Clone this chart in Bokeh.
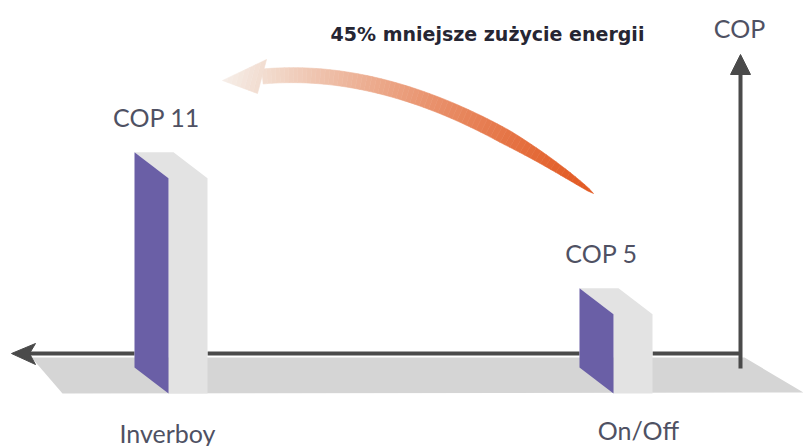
import numpy as np
from bokeh.plotting import figure
from bokeh.models import Range1d, Arrow, NormalHead
from bokeh.core.properties import value
from bokeh.embed import file_html
from bokeh.resources import INLINE

# ---- data ----
categories = ["Inverboy", "On/Off"]
cop_values = [11, 5]
cop_labels = ["COP 11", "COP 5"]
axis_title = "COP"
headline = "45% mniejsze zużycie energii"

# ---- layout ----
W, H = 803, 446
UNIT = 22.67      # pixels per COP unit
BASE = 1.5        # COP value at the front edge of the floor
FLOOR_PX = 393


def Y(px):
    return BASE + (FLOOR_PX - px) / UNIT


p = figure(width=W, height=H, x_range=Range1d(0, W), y_range=Range1d(Y(H), Y(0)),
           output_backend="svg", toolbar_location=None, min_border=0,
           x_axis_type=None, y_axis_type=None)
p.grid.visible = False
p.outline_line_color = None
p.background_fill_color = "white"
p.border_fill_color = "white"

FONT = "Lato"
TEXT_COL = "#4f5163"
AXIS_COL = "#4a4a4a"

bar_front_x = [168, 613]
BAR_W = 39
DX = -34
DDY = 26 / UNIT

# floor
p.patch(x=[31, 744, 803, 62], y=[Y(357), Y(357), Y(392), Y(393)],
        fill_color="#d5d5d5", line_color=None)

# horizontal axis, hidden behind the bars
gap_x0 = [28] + [xf + BAR_W for xf in bar_front_x]
gap_x1 = [xf + DX for xf in bar_front_x] + [741]
p.segment(x0=gap_x0, y0=[Y(353)] * 3, x1=gap_x1, y1=[Y(353)] * 3,
          line_width=4, line_color=AXIS_COL)
p.patch(x=[11, 35, 29, 35], y=[Y(353), Y(343), Y(353), Y(364)],
        fill_color=AXIS_COL, line_color=AXIS_COL, line_width=1)

# vertical axis
v_axis = Arrow(end=NormalHead(size=20, fill_color=AXIS_COL, line_color=AXIS_COL),
               x_start=740, y_start=Y(368), x_end=740, y_end=Y(54),
               line_width=4, line_color=AXIS_COL)
p.add_layout(v_axis)

# bars (pseudo 3D)
purple_xs, purple_ys, grey_xs, grey_ys = [], [], [], []
for xf, v in zip(bar_front_x, cop_values):
    top, bot = v, BASE
    purple_xs.append([xf + DX, xf, xf, xf + DX])
    purple_ys.append([top + DDY, top, bot, bot + DDY])
    grey_xs.append([xf + DX, xf + DX + BAR_W, xf + BAR_W, xf + BAR_W, xf, xf])
    grey_ys.append([top + DDY, top + DDY, top, bot, bot, top])
p.patches(grey_xs, grey_ys, fill_color="#e3e3e3", line_color=None)
p.patches(purple_xs, purple_ys, fill_color="#6a5fa6", line_color=None)

# value labels
p.text(x=[xf - 12 for xf in bar_front_x], y=[v + 61 / UNIT for v in cop_values],
       text=cop_labels, text_align="center", text_baseline="middle",
       text_font=value(FONT), text_font_size="25px", text_color=TEXT_COL)

# category labels
cat_label_x = [167, 638]
cat_label_px = [432, 429]
p.text(x=cat_label_x, y=[Y(v) for v in cat_label_px], text=categories,
       text_align="center", text_baseline="middle",
       text_font=value(FONT), text_font_size="25px", text_color=TEXT_COL)

# axis title
p.text(x=[739], y=[Y(27)], text=[axis_title], text_align="center", text_baseline="middle",
       text_font=value(FONT), text_font_size="25px", text_color=TEXT_COL)

# headline
p.text(x=[487], y=[Y(33)], text=[headline], text_align="center", text_baseline="middle",
       text_font=value("DejaVu Sans"), text_font_size="19px", text_font_style="bold",
       text_color="#262633")

# curved gradient arrow (pixel space then converted)
P0 = np.array([593.0, 193.0])
P1 = np.array([415.0, 62.0])
P2 = np.array([262.0, 76.0])
N = 70
t = np.linspace(0, 1, N + 1)
pts = ((1 - t)[:, None] ** 2) * P0 + (2 * t * (1 - t))[:, None] * P1 + (t[:, None] ** 2) * P2
der = (2 * (1 - t))[:, None] * (P1 - P0) + (2 * t)[:, None] * (P2 - P1)
der = der / np.linalg.norm(der, axis=1)[:, None]
nrm = np.stack([-der[:, 1], der[:, 0]], axis=1)
wid = 15.0 * np.minimum(1.0, t / 0.25) ** 0.6
upper = pts + nrm * (wid / 2)[:, None]
lower = pts - nrm * (wid / 2)[:, None]

c0 = np.array([0xe2, 0x58, 0x20], float)
c1 = np.array([0xf2, 0xdd, 0xd0], float)
c2 = np.array([0xf6, 0xee, 0xe9], float)


def hexc(c):
    return "#%02x%02x%02x" % tuple(int(round(v)) for v in c)


axs, ays, acol = [], [], []
for i in range(N):
    xs = [upper[i, 0], upper[i + 1, 0], lower[i + 1, 0], lower[i, 0]]
    ys = [upper[i, 1], upper[i + 1, 1], lower[i + 1, 1], lower[i, 1]]
    axs.append(xs)
    ays.append([Y(v) for v in ys])
    f = ((t[i] + t[i + 1]) / 2) ** 1.1
    acol.append(hexc(c0 + (c1 - c0) * f))

# arrow head, split into strips
tip = np.array([222.0, 80.0])
A = np.array([266.0, 59.0])
B = np.array([257.0, 93.0])
M = 8
for j in range(M):
    s0, s1 = j / M, (j + 1) / M
    a0 = A + (tip - A) * s0
    a1 = A + (tip - A) * s1
    b0 = B + (tip - B) * s0
    b1 = B + (tip - B) * s1
    axs.append([a0[0], a1[0], b1[0], b0[0]])
    ays.append([Y(a0[1]), Y(a1[1]), Y(b1[1]), Y(b0[1])])
    f = (s0 + s1) / 2
    acol.append(hexc(c1 + (c2 - c1) * f))

p.patches(axs, ays, fill_color=acol, line_color=acol, line_width=0.6)

open("out.html", "w").write(file_html(p, INLINE))
